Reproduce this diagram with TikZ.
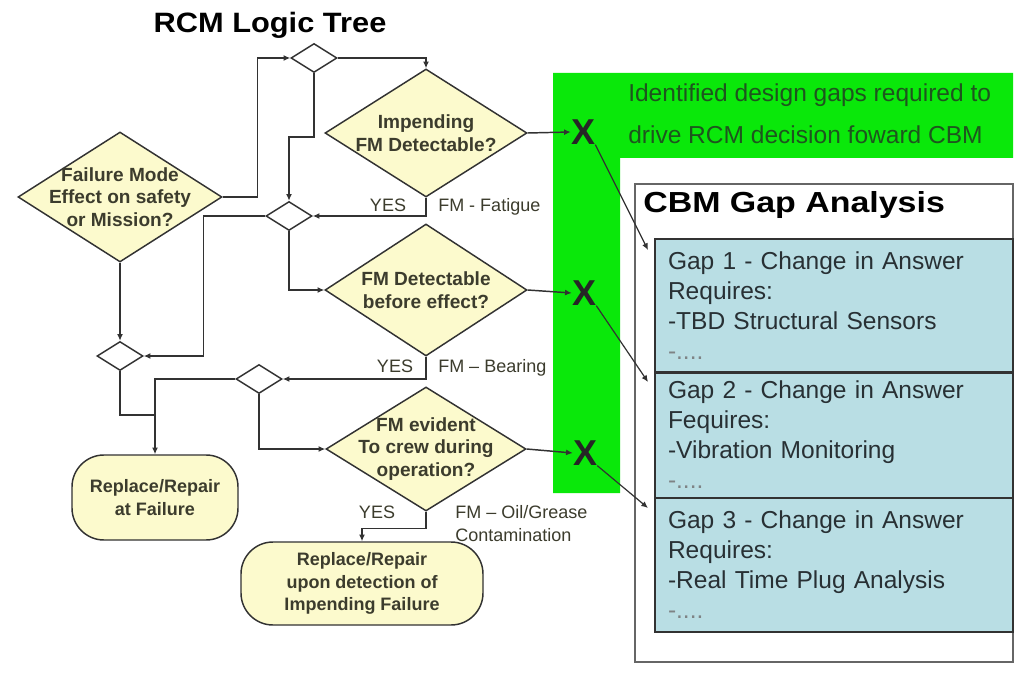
\documentclass[tikz,border=0pt]{standalone}
\usepackage{fontspec}
\setmainfont{Liberation Sans}
\usetikzlibrary{shapes.geometric,arrows.meta}
\definecolor{dfill}{RGB}{252,250,205}
\definecolor{lineC}{RGB}{50,50,50}
\definecolor{txtC}{RGB}{60,60,45}
\definecolor{grn}{RGB}{10,232,10}
\definecolor{grnT}{RGB}{30,85,30}
\definecolor{gapF}{RGB}{185,222,228}
\definecolor{gapT}{RGB}{40,48,52}
\begin{document}
\begin{tikzpicture}[x=0.75pt,y=-0.75pt,
  conn/.style={draw=lineC, line width=1.1pt},
  arr/.style={conn, -{Latex[length=5pt,width=4.5pt]}},
  dia/.style={diamond, draw=lineC, line width=1.1pt, fill=dfill, inner sep=0pt},
  sdia/.style={diamond, draw=lineC, line width=1.1pt, fill=white, minimum width=34.5pt, minimum height=21.75pt, inner sep=0pt},
  dtext/.style={text=txtC, font=\fontsize{14.3}{16.8}\selectfont\bfseries, align=center, inner sep=0pt},
  lbl/.style={text=txtC, font=\fontsize{13.5}{17.25}\selectfont, inner sep=0pt},
  rbox/.style={draw=lineC, line width=1.1pt, fill=dfill, rounded corners=24pt, text=txtC, font=\fontsize{13.5}{16.8}\selectfont\bfseries, align=center},
  gapbox/.style={draw=lineC, line width=1.1pt, fill=gapF, text width=249pt, inner xsep=9.75pt, align=left, text=gapT, font=\fontsize{18.4}{22.5}\selectfont},
  xmark/.style={font=\fontsize{27}{27}\selectfont\bfseries, inner sep=0pt, text=black!85}
]
\useasboundingbox[fill=white] (0,0) rectangle (1021,681);

% green L-shaped band
\fill[grn] (553,73) -- (1013,73) -- (1013,158) -- (620,158) -- (620,493) -- (553,493) -- cycle;
\node[anchor=west, align=left, inner sep=0pt, text=grnT, font=\fontsize{18.4}{31.5}\selectfont] (gtext) at (628,114)
  {Identified design gaps required to\\drive RCM decision foward CBM};

% CBM gap analysis panel
\node[draw=black!60, line width=0.8pt, fill=white, minimum width=283.5pt, minimum height=358.5pt, inner sep=0pt] (cbm) at (824,423) {};
\node[anchor=west, inner sep=0pt, font=\fontsize{21.75}{22}\selectfont\bfseries] (cbmtitle) at (643,205) {\scalebox{1.17}[1]{CBM Gap Analysis}};
\node[gapbox, minimum height=99.75pt] (gap1) at (834,305.5) {Gap 1 - Change in Answer\\Requires:\\-TBD Structural Sensors\\{\color{gapT!60}-....}};
\node[gapbox, minimum height=94.5pt] (gap2) at (834,435) {Gap 2 - Change in Answer\\Fequires:\\-Vibration Monitoring\\{\color{gapT!60}-....}};
\node[gapbox, minimum height=100.5pt] (gap3) at (834,565) {Gap 3 - Change in Answer\\Requires:\\-Real Time Plug Analysis\\{\color{gapT!60}-....}};
\draw[lineC, line width=2pt] (gap1.south west) -- (gap1.south east);

% title
\node[inner sep=0pt, font=\fontsize{21}{22}\selectfont\bfseries] (title) at (270,25) {\scalebox{1.1}[1]{RCM Logic Tree}};

% decision diamonds
\node[dia, minimum width=153pt, minimum height=97.5pt,
  label={[dtext]center:{Failure Mode\\Effect on safety\\or Mission?}}] (fail) at (120,197) {};
\node[dia, minimum width=151.5pt, minimum height=96pt,
  label={[dtext]center:{Impending\\FM Detectable?}}] (imp) at (426,133) {};
\node[dia, minimum width=151.5pt, minimum height=99pt,
  label={[dtext]center:{FM Detectable\\before effect?}}] (det) at (426,290) {};
\node[dia, minimum width=150pt, minimum height=93pt,
  label={[dtext]center:{FM evident\\To crew during\\operation?}}] (evid) at (426,449) {};

% small junction diamonds
\node[sdia] (d1) at (314,58) {};
\node[sdia] (d2) at (289,216) {};
\node[sdia] (d3) at (120,356) {};
\node[sdia] (d4) at (259,379) {};

% end states
\node[rbox, minimum width=124.5pt, minimum height=63.75pt] (rep1) at (155,497.5) {Replace/Repair\\at Failure};
\node[rbox, minimum width=181.5pt, minimum height=62.25pt] (rep2) at (362,583.5) {Replace/Repair\\upon detection of\\Impending Failure};

% X marks
\node[xmark] (x1) at (583,132) {X};
\node[xmark] (x2) at (584,293) {X};
\node[xmark] (x3) at (585,453) {X};
\coordinate (t1) at (648,250);
\coordinate (t2) at (648,382);
\coordinate (t3) at (648,508);
\coordinate (j1) at (155,415);

% connectors
\draw[arr] (fail.east) -- ++(35,0) |- (d1.west);
\draw[arr] (d1.east) -| (imp.north);
\draw[arr] (d1.south) -- ++(0,64) -| (d2.north);
\draw[arr] (imp.south) |- (d2.east);
\draw[arr] (d2.west) -- ++(-62,0) |- (d3.east);
\draw[arr] (d2.south) |- (det.west);
\draw[arr] (fail.south) -- (d3.north);
\draw[arr] (det.south) |- (d4.east);
\draw[conn] (d3.south) |- (j1);
\draw[arr] (d4.west) -| (rep1.north);
\draw[arr] (d4.south) |- (evid.west);
\draw[arr] (evid.south) -- ++(0,17) -| (rep2.north);
\draw[arr] (imp.east) -- (x1.west);
\draw[arr] (det.east) -- (x2.west);
\draw[arr] (evid.east) -- (x3.west);
\draw[arr, line width=0.9pt] (x1.south east) -- (t1);
\draw[arr, line width=0.9pt] (x2.south east) -- (t2);
\draw[arr, line width=0.9pt] (x3.south east) -- (t3);

% branch labels
\node[lbl] (yes1) at (388,205) {YES};
\node[lbl, anchor=west] (fm1) at (438,207) {FM - Fatigue};
\node[lbl] (yes2) at (395,366) {YES};
\node[lbl, anchor=west] (fm2) at (438,368) {FM – Bearing};
\node[lbl] (yes3) at (377,512) {YES};
\node[lbl, anchor=west, align=left] (fm3) at (455,524) {FM – Oil/Grease\\Contamination};
\end{tikzpicture}
\end{document}
